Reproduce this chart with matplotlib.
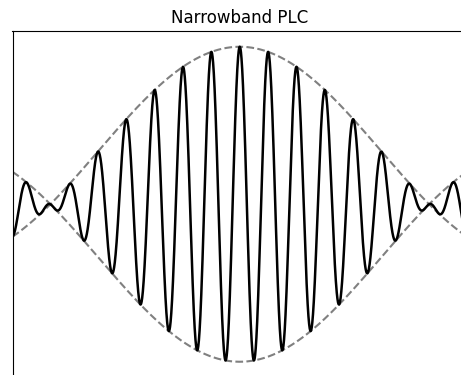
#!/usr/bin/env python3
"""Narrowband PLC: three adjacent tones summed, with the beat envelope."""

import matplotlib

matplotlib.use("Agg")
import matplotlib.pyplot as plt
import numpy as np

# time window shown (seconds, centred on the envelope peak)
t_start, t_stop = -0.4, 0.4
# three narrowband carriers (Hz) and their amplitudes
tone_freqs = [19.0, 20.0, 21.0]
tone_amps = [1.0, 1.0, 1.0]

t = np.linspace(t_start, t_stop, 4000)
signal = np.zeros_like(t)
for f, a in zip(tone_freqs, tone_amps):
    signal += a * np.cos(2 * np.pi * f * t)

# beat envelope of the three tones: a_c + 2 a_s cos(2 pi df t)
df = tone_freqs[1] - tone_freqs[0]
envelope = tone_amps[1] + 2 * tone_amps[0] * np.cos(2 * np.pi * df * t)

W, H = 461, 375
fig = plt.figure(figsize=(W / 100, H / 100), dpi=100)
# axes run a little past the right and bottom edges of the picture
left, top, right, bottom = 12.5, 31.0, 467.0, 377.5
ax = fig.add_axes([left / W, (H - bottom) / H, (right - left) / W, (bottom - top) / H])

ax.plot(t, envelope, "--", color="gray", lw=1.5)
ax.plot(t, -envelope, "--", color="gray", lw=1.5)
ax.plot(t, signal, color="black", lw=1.8)

ax.set_xlim(t_start, t_stop)
ax.set_xticks([])
ax.set_yticks([])
ax.set_title("Narrowband PLC")

fig.savefig("out.png", dpi=100, facecolor="white")
plt.close(fig)
